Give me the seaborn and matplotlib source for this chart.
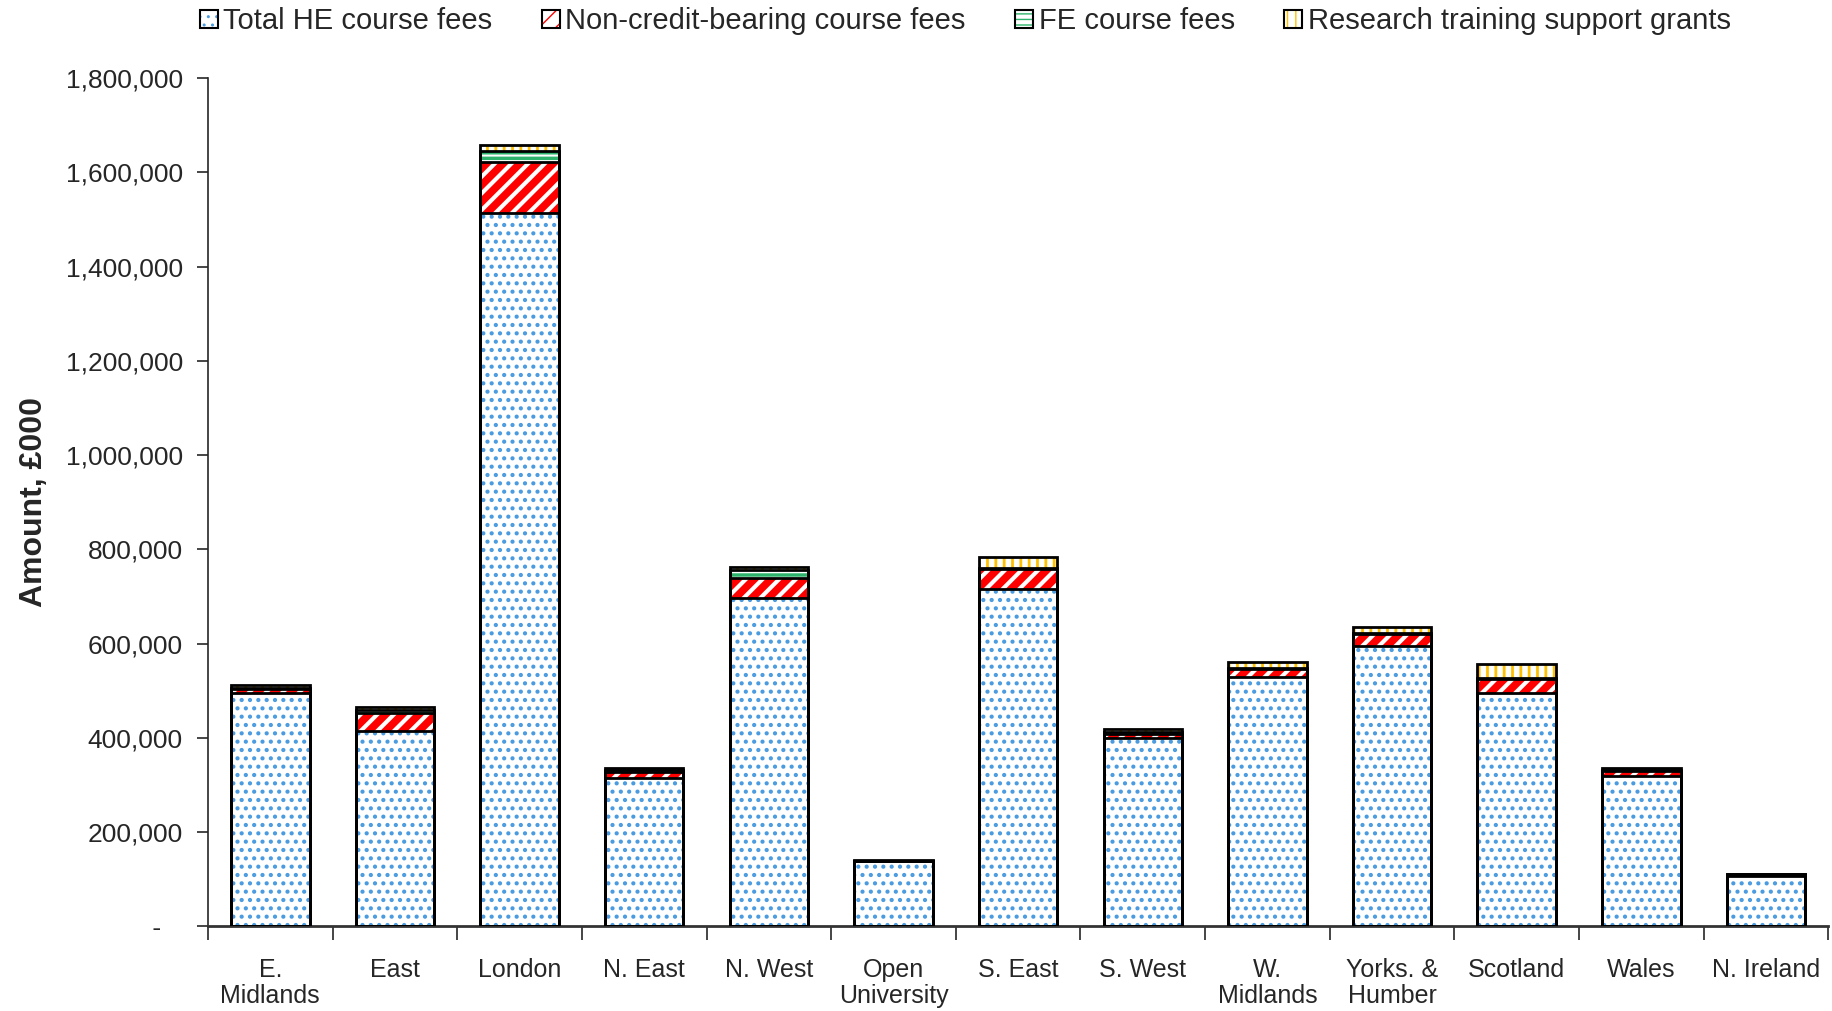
import matplotlib
matplotlib.use("Agg")
import matplotlib.pyplot as plt
import seaborn as sns
import numpy as np
import pandas as pd
from matplotlib.patches import Patch
from matplotlib.ticker import FuncFormatter, FixedLocator

regions = ["E.\nMidlands", "East", "London", "N. East", "N. West", "Open\nUniversity",
           "S. East", "S. West", "W.\nMidlands", "Yorks. &\nHumber", "Scotland", "Wales",
           "N. Ireland"]
he_fees = [495000, 415000, 1514000, 315000, 698000, 139000, 716000, 399000, 530000,
           596000, 496000, 320000, 108000]
noncredit_fees = [8000, 39000, 109000, 12000, 42000, 1000, 42000, 10000, 16000,
                  24000, 30000, 10000, 2000]
fe_fees = [4000, 5000, 22000, 5000, 16000, 0, 2000, 4000, 3000, 3000, 2000, 3000, 1000]
research_grants = [6000, 7000, 14000, 5000, 6000, 1000, 25000, 6000, 13000, 13000,
                   30000, 4000, 1000]
series_names = ["Total HE course fees", "Non-credit-bearing course fees",
                "FE course fees", "Research training support grants"]

sns.set_theme(style="ticks")
plt.rcParams["font.family"] = ["Liberation Sans", "DejaVu Sans"]

fig = plt.figure(figsize=(18.32, 10.11), dpi=100)
ax = fig.add_axes([0.1135, 0.0836, 0.8845, 0.839])

series = [he_fees, noncredit_fees, fe_fees, research_grants]
cum = np.cumsum(np.array(series, dtype=float), axis=0)
styles = [
    dict(hatch="..", color="#4A9BE0", hlw=1.8),
    dict(hatch="//", color="#FF0000", hlw=5.5),
    dict(hatch="---", color="#2DB36B", hlw=2.5),
    dict(hatch="||", color="#FFC000", hlw=2.0),
]

def add_layer(values):
    n0 = len(ax.patches)
    df = pd.DataFrame({"region": regions, "value": values})
    sns.barplot(data=df, x="region", y="value", order=regions, width=0.63,
                errorbar=None, color="white", ax=ax)
    return ax.patches[n0:]

# fills, from the top of the stack down
for i in range(3, -1, -1):
    st = styles[i]
    for p in add_layer(cum[i]):
        p.set_facecolor("white")
        p.set_edgecolor(st["color"])
        p.set_linewidth(0)
        p.set_hatch(st["hatch"])
        if hasattr(p, "set_hatch_linewidth"):
            p.set_hatch_linewidth(st["hlw"])
        p.set_zorder(2)
# black outlines
for i in range(3, -1, -1):
    for p in add_layer(cum[i]):
        p.set_facecolor("none")
        p.set_edgecolor("black")
        p.set_linewidth(2.0)
        p.set_hatch(None)
        p.set_zorder(3)

ax.set_xlim(-0.5, len(regions) - 0.5)
ax.set_ylim(0, 1800000)
ax.yaxis.set_major_locator(FixedLocator(np.arange(0, 1800001, 200000)))
ax.yaxis.set_major_formatter(FuncFormatter(lambda v, pos: " -   " if v == 0 else f"{v:,.0f}"))
ax.tick_params(axis="y", labelsize=19, length=8, width=1.2, direction="out", pad=10)
ax.set_xticks(range(len(regions)))
ax.set_xticklabels(regions, fontsize=18, linespacing=1.1, va="top")
ax.tick_params(axis="x", length=0, pad=23)
ax.set_xticks(np.arange(-0.5, len(regions), 1.0), minor=True)
ax.tick_params(axis="x", which="minor", length=10, width=1.2, direction="out")
ax.set_xlabel("")
ax.set_ylabel("Amount, £000", fontsize=23, fontweight="bold", labelpad=12)

sns.despine(ax=ax, top=True, right=True)
ax.spines["left"].set_linewidth(1.2)
ax.spines["bottom"].set_linewidth(2.0)
ax.spines["bottom"].set_color("#333333")

handles = []
for st in styles:
    fill = Patch(facecolor="white", edgecolor=st["color"], linewidth=0, hatch=st["hatch"])
    outline = Patch(facecolor="none", edgecolor="black", linewidth=1.5)
    handles.append((fill, outline))
fig.legend(handles, series_names, loc="center", bbox_to_anchor=(0.527, 0.979),
           ncol=4, frameon=False, fontsize=21, handlelength=0.6, handleheight=0.6,
           handletextpad=0.2, columnspacing=1.7)

fig.savefig("out.png", dpi=100)
